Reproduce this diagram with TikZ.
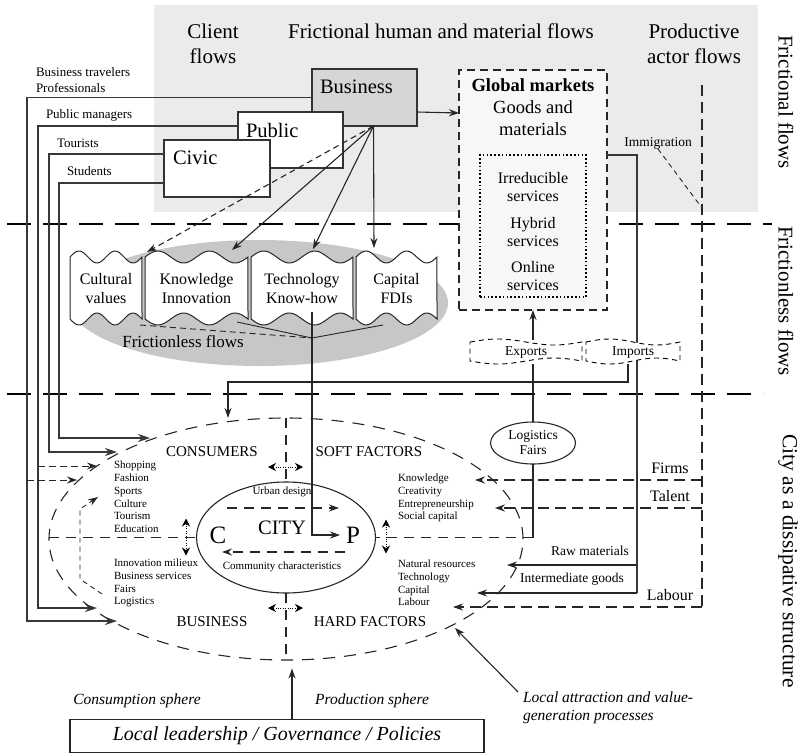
\documentclass[tikz,border=0pt]{standalone}
\usepackage{fontspec}
\setmainfont{Liberation Serif}
\usetikzlibrary{arrows.meta,shapes.geometric,calc}
\newcommand\fsz[2]{\fontsize{#1}{#2}\selectfont}
% wavy banner for a frictionless flow: name, left x, right x, text
\newcommand\flowbanner[4]{%
  \draw[line width=1pt, draw=black!85, fill=white]
    plot[domain=0:1, samples=37, smooth] ({#2+(#3-#2)*\x}, {257-6*sin(720*\x)})
    -- plot[domain=0:1, samples=37, smooth] ({#3-(#3-#2)*\x}, {319+6*sin(720*(1-\x))})
    -- cycle;
  \node[font=\fsz{16}{19}, align=center] (#1) at ({(#2+#3)/2}, 289) {#4};
}
% dashed wavy banner for trade: name, left x, right x, text
\newcommand\tradebanner[4]{%
  \draw[line width=0.9pt, dash pattern=on 5pt off 4pt, fill=white]
    plot[domain=0:1, samples=25, smooth] ({#2+(#3-#2)*\x}, {342-3*sin(360*\x)})
    -- plot[domain=0:1, samples=25, smooth] ({#3-(#3-#2)*\x}, {361+3*sin(360*(1-\x))})
    -- cycle;
  \node[font=\fsz{13.5}{16}] (#1) at ({(#2+#3)/2}, 353) {#4};
}
\begin{document}
\begin{tikzpicture}[x=1pt, y=-1pt,
  every node/.style={inner sep=0pt, outer sep=0pt},
  flow/.style={draw=black!78, line width=1.6pt},
  conn/.style={draw=black!85, line width=1.1pt},
  tip/.style={-{Stealth[length=10pt,width=7pt]}},
  bigtip/.style={-{Stealth[length=12pt,width=8pt]}},
  sep/.style={line width=2.6pt, dash pattern=on 24pt off 12pt},
  ringdash/.style={draw=black!85, line width=1.1pt, dash pattern=on 12pt off 9pt},
  axisdash/.style={draw=black!85, line width=1.1pt, dash pattern=on 10pt off 7pt},
  actordash/.style={draw=black!85, line width=1.1pt, dash pattern=on 11pt off 6pt},
  finedash/.style={draw=black!85, line width=1pt, dash pattern=on 7pt off 4pt},
  twoway/.style={{Stealth[length=8pt,width=8pt]}-{Stealth[length=8pt,width=8pt]}, line width=0.8pt, dash pattern=on 0.8pt off 1.6pt},
  head/.style={font=\fsz{21}{25}, align=center},
  boxtxt/.style={font=\fsz{20.5}{24}, anchor=base west},
  small/.style={font=\fsz{13}{15}, anchor=west},
  mid/.style={font=\fsz{16}{19}},
  caps/.style={font=\fsz{15}{18}},
  listtxt/.style={font=\fsz{11}{12.8}, align=left, anchor=west},
  ital/.style={font=\itshape\fsz{15.5}{18}}
]
\useasboundingbox (0,0) rectangle (803,755);

% shaded zone of frictional flows
\fill[black!8] (154,5) rectangle (758,212);

% zone separators
\draw[sep] (7,224) -- (772,224);
\draw[sep] (7,394) -- (763,394);

% zone titles
\node[head] (hclient) at (213,44) {Client\\flows};
\node[head] (hfric) at (441,31) {Frictional human and material flows};
\node[head] (hprod) at (694,44) {Productive\\actor flows};
\node[head, rotate=-90] (zone1) at (786,102) {Frictional flows};
\node[head, rotate=-90] (zone2) at (786,301) {Frictionless flows};
\node[head, rotate=-90, font=\fsz{21.5}{25}] (zone3) at (788,561) {City as a dissipative structure};

% global markets
\node[draw=black!85, line width=1.1pt, dash pattern=on 8pt off 5pt, fill=black!3,
      minimum width=148pt, minimum height=240pt] (gm) at (533,190) {};
\node[font=\fsz{18.5}{22}, align=center, anchor=north] (gmtxt) at (533,79)
  {\textbf{Global markets}\\Goods and\\materials};
\node[draw=black, line width=1.6pt, dash pattern=on 1.6pt off 2.2pt,
      minimum width=106pt, minimum height=142pt] (svc) at (533,226) {};
\node[align=center, font=\fsz{16}{18}] (svc1) at (533,187) {Irreducible\\services};
\node[align=center, font=\fsz{16}{18}] (svc2) at (533,232) {Hybrid\\services};
\node[align=center, font=\fsz{16}{18}] (svc3) at (533,276) {Online\\services};

% client flow lines leaving the three boxes
\coordinate (inBT) at (117,621);
\coordinate (inPM) at (97,608);
\coordinate (inTO) at (117,452);
\coordinate (inST) at (150,438);
\node[draw=black!80, line width=1.2pt, fill=black!16, minimum width=105pt, minimum height=57pt] (bus) at (364.5,97.5) {};
\draw[flow, bigtip] (bus.west) -- (27,97.5) -- (27,621) -- (inBT);
\node[boxtxt] (bustxt) at (320,93) {Business};
\node[draw=black!80, line width=1.2pt, fill=white, minimum width=105pt, minimum height=56pt] (pub) at (290.5,140) {};
\draw[flow, bigtip] ($(pub.north west)+(0,14)$) -- (38,126) -- (38,608) -- (inPM);
\node[boxtxt] (pubtxt) at (246,137) {Public};
\node[draw=black!80, line width=1.2pt, fill=white, minimum width=106pt, minimum height=57pt] (civ) at (217,168.5) {};
\draw[flow, bigtip] ($(civ.north west)+(0,14)$) -- (49,154) -- (49,452) -- (inTO);
\draw[flow, bigtip] ($(civ.north west)+(0,43)$) -- (59,183) -- (59,438) -- (inST);
\node[boxtxt] (civtxt) at (173,164) {Civic};

\node[small] (lbt) at (36,72) {Business travelers};
\node[small] (lpro) at (36,88) {Professionals};
\node[small] (lpm) at (46,115) {Public managers};
\node[small] (ltou) at (57,143) {Tourists};
\node[small] (lstu) at (67,171) {Students};

% business to global markets
\draw[conn, tip] ($(bus.north east)+(0,43)$) -- ($(gm.north west)+(0,43)$);

% frictionless flows
\node[ellipse, fill=black!22, minimum width=378pt, minimum height=126pt] (fless) at (259,303) {};
\flowbanner{cult}{70}{142}{Cultural\\values}
\flowbanner{know}{145}{248}{Knowledge\\Innovation}
\flowbanner{tech}{251}{353}{Technology\\Know-how}
\flowbanner{capi}{356}{437}{Capital\\FDIs}
\node[font=\fsz{17}{20}] (flesstxt) at (183,342) {Frictionless flows};
\coordinate (fl) at (312,338);
\draw[conn, line width=0.9pt, dash pattern=on 6pt off 4pt] (140,325) -- (fl);
\draw[conn, line width=0.9pt] (237,322) -- (fl) -- (383,325);

% fan of flows from the business box
\coordinate (fan) at ($(bus.south)+(9,0)$);
\coordinate (toCult) at (147,252);
\coordinate (toKnow) at (232,250);
\coordinate (toTech) at (313,249);
\coordinate (toCapi) at (374,248);
\draw[conn, tip, dash pattern=on 6pt off 4pt] (fan) -- (toCult);
\draw[conn, tip] (fan) -- (toKnow);
\draw[conn, tip] (fan) -- (toTech);
\draw[conn, tip] (fan) -- (toCapi);

% productive actor flows
\draw[actordash] (702,85) -- (702,607);
\node[font=\fsz{13.5}{16}] (immi) at (658,143) {Immigration};
\draw[conn, line width=0.9pt, dash pattern=on 5pt off 4pt] (immi.south) -- (702,208);

% goods and materials line down to the city
\coordinate (inRM) at (507,565);
\coordinate (inIG) at (477,593);
\draw[flow, line width=1.3pt] ($(gm.north east)+(0,85)$) -- (637,155) -- (637,593);
\draw[conn, tip] (637,593) -- (inIG);
\draw[conn, tip] (637,565) -- (inRM);
\node[font=\fsz{13.5}{16}] (lraw) at (590,551) {Raw materials};
\node[font=\fsz{13.5}{16}] (linter) at (572,579) {Intermediate goods};

% the city as a dissipative structure
\node[ellipse, ringdash, minimum width=474pt, minimum height=242pt] (ring) at (286,539) {};
\node[ellipse, draw=black!85, line width=1.1pt, minimum width=179pt, minimum height=111pt] (city) at (286,537.5) {};
\draw[axisdash] (ring.north) -- (city.north);
\draw[axisdash] (city.south) -- (ring.south);
\draw[axisdash] (ring.west |- city.west) -- (city.west);

% trade banners and logistics
\tradebanner{expo}{470}{582}{Exports}
\tradebanner{impo}{586}{680}{Imports}
\node[ellipse, draw=black!85, line width=1.1pt, minimum width=85pt, minimum height=42pt,
      align=center, font=\fsz{13.5}{15}] (logi) at (533,443) {Logistics\\Fairs};
\draw[conn, tip] ($(gm.south)+(0,30)$) -- (gm.south);
\draw[conn] ($(gm.south)+(0,54)$) -- (logi.north);
\draw[conn] (logi.south) -- (logi.south |- city.east);
\draw[axisdash] (logi.south |- city.east) -- (city.east);
\coordinate (inImp) at (228,418);
\draw[conn, tip] (628,364) -- (628,382) -- (228,382) -- (inImp);

% actor inflows
\coordinate (inFirm) at (475,480);
\coordinate (inTal) at (495,508);
\coordinate (inLab) at (453,607);
\draw[actordash, tip] (702,480) -- (inFirm);
\draw[actordash, tip] (702,508) -- (inTal);
\draw[actordash, tip] (702,607) -- (inLab);
\node[font=\fsz{16}{19}] (lfirm) at (670,468) {Firms};
\node[font=\fsz{16}{19}] (ltal) at (670,496) {Talent};
\node[font=\fsz{16}{19}] (llab) at (670,595) {Labour};

% extra consumer inflows
\coordinate (inD1) at (97,466);
\coordinate (inD2) at (77,480);
\draw[finedash, tip] (38,466) -- (inD1);
\draw[finedash, tip] (27,480) -- (inD2);
\coordinate (inLoop) at (98,497);
\draw[finedash, line width=0.9pt, dash pattern=on 5pt off 4pt, tip] (102,594) -- (80,579) -- (80,509) -- (inLoop);

% inside the city
\node[caps] (lcons) at (212,452) {CONSUMERS};
\node[caps] (lsoft) at (369,452) {SOFT FACTORS};
\node[caps] (lbusi) at (212,622) {BUSINESS};
\node[caps] (lhard) at (370,622) {HARD FACTORS};
\node[listtxt] (lst1) at (114,497) {Shopping\\Fashion\\Sports\\Culture\\Tourism\\Education};
\node[listtxt] (lst2) at (114,583) {Innovation milieux\\Business services\\Fairs\\Logistics};
\node[listtxt] (lst3) at (398,498) {Knowledge\\Creativity\\Entrepreneurship\\Social capital};
\node[listtxt] (lst4) at (398,583) {Natural resources\\Technology\\Capital\\Labour};

\node[font=\fsz{11}{13}] (urban) at (282,492) {Urban design};
\node[font=\fsz{11}{13}] (commu) at (282,567) {Community characteristics};
\node[font=\fsz{20.5}{24}] (cityname) at (282,528) {CITY};
\node[font=\fsz{25}{28}] (cC) at (218,535) {C};
\node[font=\fsz{25}{28}] (cP) at (353,535) {P};
\draw[axisdash, tip] (227,508) -- (339,508);
\draw[axisdash, tip] (345,552) -- (222,552);
\draw[conn, tip] (312,312) |- ([xshift=-6pt]cP.west);

\draw[twoway] ($(city.north)+(-18,-15)$) -- ($(city.north)+(17,-15)$);
\draw[twoway] ($(city.south)+(-18,15)$) -- ($(city.south)+(17,15)$);
\draw[twoway] ($(city.west)+(-10.5,-19)$) -- ($(city.west)+(-10.5,18)$);
\draw[twoway] ($(city.east)+(10.5,-18)$) -- ($(city.east)+(10.5,16)$);

% spheres and governance
\node[ital] (lcsph) at (137,701) {Consumption sphere};
\node[ital] (lpsph) at (372,701) {Production sphere};
\node[ital, align=left, anchor=north west] (latt) at (523,692) {Local attraction and value-\\generation processes};
\coordinate (inAtt) at (455,628);
\draw[conn, tip] (518,692) -- (inAtt);
\node[draw=black!85, line width=1.1pt, minimum width=414pt, minimum height=33pt,
      font=\itshape\fsz{20}{24}] (gov) at (277,736) {Local leadership / Governance / Policies};
\draw[conn, tip] ($(gov.north)+(15,0)$) -- ($(gov.north)+(15,-51)$);
\end{tikzpicture}
\end{document}
